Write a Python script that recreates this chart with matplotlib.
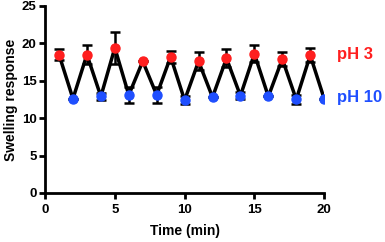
import matplotlib.pyplot as plt
import numpy as np

plt.rcParams['font.family'] = ['Liberation Sans', 'DejaVu Sans']
plt.rcParams['font.weight'] = 'bold'

time = [1, 2, 3, 4, 5, 6, 7, 8, 9, 10, 11, 12, 13, 14, 15, 16, 17, 18, 19, 20]
swelling = [18.5, 12.6, 18.5, 12.9, 19.4, 13.1, 17.6, 13.1, 18.2, 12.4,
            17.6, 12.8, 18.0, 13.0, 18.6, 12.9, 17.9, 12.5, 18.4, 12.6]
error = [0.75, 0.0, 1.3, 0.5, 2.1, 1.1, 0.0, 1.05, 0.8, 0.5,
         1.2, 0.0, 1.2, 0.5, 1.15, 0.0, 0.9, 0.55, 0.95, 0.0]

red = '#ff1f1f'
blue = '#1f4fff'

fig = plt.figure(figsize=(3.85, 2.42), dpi=100)
ax = fig.add_axes([0.117, 0.2025, 0.725, 0.773])

t = np.array(time)
s = np.array(swelling)
e = np.array(error)
ax.errorbar(t, s, yerr=e, color='black', lw=2.5, capsize=3.5, capthick=1.8,
            elinewidth=1.8, marker='s', markersize=5, zorder=2)
ax.plot(t[0::2], s[0::2], 'o', color=red, markersize=6.5, zorder=3)
ax.plot(t[1::2], s[1::2], 'o', color=blue, markersize=6.5, zorder=3)

ax.set_xlim(0, 20)
ax.set_ylim(0, 25)
ax.set_xticks([0, 5, 10, 15, 20])
ax.set_yticks([0, 5, 10, 15, 20, 25])
ax.spines['top'].set_visible(False)
ax.spines['right'].set_visible(False)
for sp in ['left', 'bottom']:
    ax.spines[sp].set_linewidth(2)
ax.tick_params(width=2, length=4, labelsize=9.5)
ax.tick_params(axis='x', pad=4)
ax.tick_params(axis='y', pad=2)
ax.set_xlabel('Time (min)', fontsize=10, fontweight='bold', labelpad=6)
ax.set_ylabel('Swelling response', fontsize=10, fontweight='bold', labelpad=3)

ax.text(20.9, 18.5, 'pH 3', color=red, fontsize=12, fontweight='bold',
        va='center', ha='left', clip_on=False)
ax.text(20.9, 12.7, 'pH 10', color=blue, fontsize=12, fontweight='bold',
        va='center', ha='left', clip_on=False)

fig.savefig('out.png', dpi=100)
